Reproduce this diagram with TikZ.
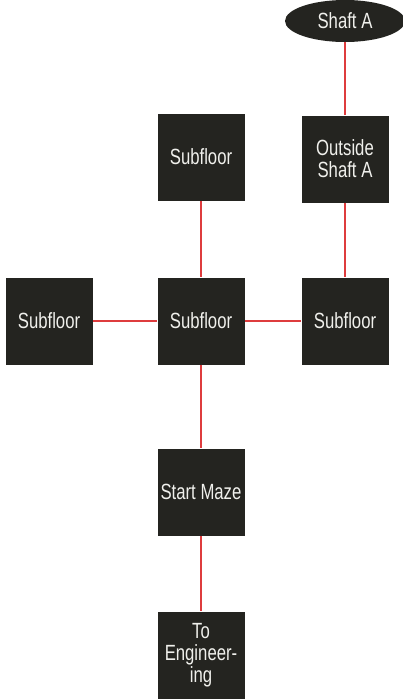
\documentclass[tikz,border=0pt]{standalone}
\usepackage{fontspec}
\setmainfont[FakeStretch=0.76]{Liberation Sans}
\usetikzlibrary{shapes.geometric}
\definecolor{boxfill}{RGB}{36,36,32}
\definecolor{linkred}{RGB}{222,60,62}
\definecolor{txt}{RGB}{240,240,236}
\tikzset{
  room/.style={rectangle, fill=boxfill, minimum width=87pt, minimum height=87pt, inner sep=0pt,
    text=txt, align=center, font=\fontsize{22}{22}\selectfont},
  oval/.style={ellipse, fill=boxfill, minimum width=120pt, minimum height=42pt, inner sep=0pt,
    text=txt, font=\fontsize{22}{22}\selectfont},
  link/.style={draw=linkred, line width=1.4pt}
}
\begin{document}
\begin{tikzpicture}[x=1pt,y=-1pt]
\useasboundingbox (0,0) rectangle (403,699);
\node[oval] (shaft) at (345,21) {Shaft A};
\node[room] (outside) at (345,159) {Outside\\Shaft A};
\node[room] (subtop) at (201,157) {Subfloor};
\node[room] (subleft) at (49,321) {Subfloor};
\node[room] (subc) at (201,321) {Subfloor};
\node[room] (subr) at (345,321) {Subfloor};
\node[room] (start) at (201,492) {Start Maze};
\node[room] (eng) at (201,655) {To\\Engineer-\\ing};
\draw[link] (shaft.south) -- (outside.north);
\draw[link] (outside.south) -- (subr.north);
\draw[link] (subtop.south) -- (subc.north);
\draw[link] (subleft.east) -- (subc.west);
\draw[link] (subc.east) -- (subr.west);
\draw[link] (subc.south) -- (start.north);
\draw[link] (start.south) -- (eng.north);
\end{tikzpicture}
\end{document}
